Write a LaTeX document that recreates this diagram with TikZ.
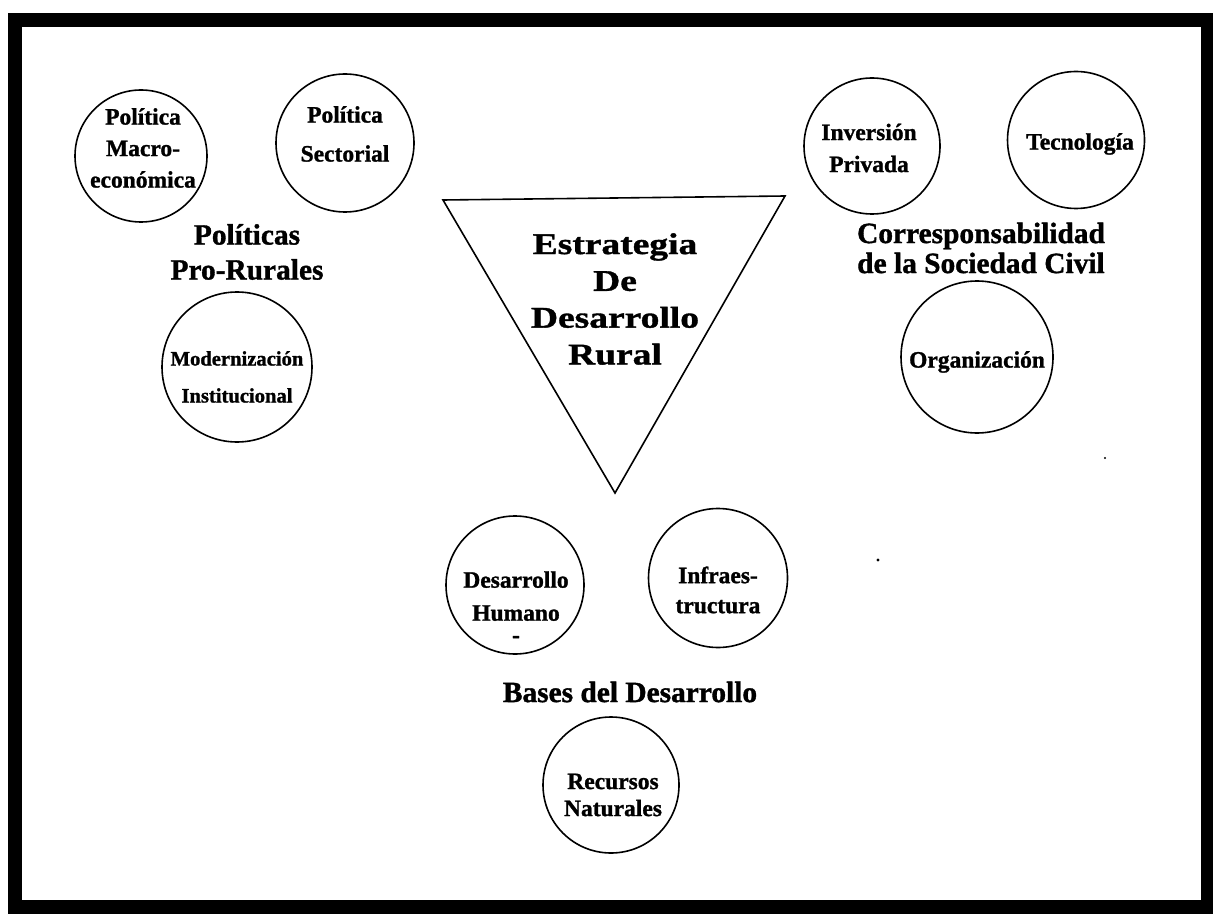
\documentclass[tikz,border=0pt]{standalone}
\usepackage{fontspec}
\setmainfont[BoldFeatures={FakeBold=1.2}]{Liberation Serif}
\newfontfamily\widefont[FakeStretch=1.25, FakeBold=1.2]{Liberation Serif Bold}

\begin{document}
\begin{tikzpicture}[
            x=0.5pt, y=-0.5pt,
            topic/.style={ draw, circle, line width=0.8pt, inner sep=0pt },
            topictext/.style={ align=center, font=\bfseries\fontsize{11.75}{16}\selectfont },
            heading/.style={ align=center, font=\bfseries\fontsize{14.7}{17.5}\selectfont },
            speck/.style={ fill=black }
        ]

        \useasboundingbox (0,0) rectangle (1213,914);
        \draw[line width=7pt] (14.5,20) rectangle (1208,907);

        \coordinate (tri-left)  at (443,200);
        \coordinate (tri-right) at (785,196);
        \coordinate (tri-tip)   at (615,493);
        \draw[line width=0.8pt] (tri-left) -- (tri-right) -- (tri-tip) -- cycle;
        \node[align=center, font=\widefont\fontsize{15}{18.4}\selectfont] (estrategia) at (615,299) {Estrategia\\De\\Desarrollo\\Rural};

        \node[topic, minimum size=66pt] (macro) at (141,156) {};
        \node[topictext, font=\bfseries\fontsize{11.75}{15.75}\selectfont] (macro-t) at (143,148) {Política\\Macro-\\económica};
        \node[topic, minimum size=69pt] (sectorial) at (345,143) {};
        \node[topictext, font=\bfseries\fontsize{11.75}{19.5}\selectfont] (sectorial-t) at (345,134) {Política\\Sectorial};
        \node[heading] (politicas) at (247,252) {Políticas\\Pro-Rurales};
        \node[topic, minimum size=75pt] (modernizacion) at (237,367) {};
        \node[topictext, font=\bfseries\fontsize{10.3}{18.5}\selectfont] (modernizacion-t) at (237,377) {Modernización\\Institucional};

        \node[topic, minimum size=68pt] (inversion) at (872,146) {};
        \node[topictext] (inversion-t) at (869,148) {Inversión\\Privada};
        \node[topic, minimum size=68.5pt] (tecnologia) at (1076,140) {};
        \node[topictext] (tecnologia-t) at (1080,144) {Tecnología};
        \node[heading, font=\bfseries\fontsize{14.7}{15}\selectfont] (sociedad) at (981,248) {Corresponsabilidad\\de la Sociedad Civil};
        \node[topic, minimum size=76pt] (organizacion) at (977,357) {};
        \node[topictext] (organizacion-t) at (977,362) {Organización};

        \node[topic, minimum size=69pt] (humano) at (515,585) {};
        \node[topictext, font=\bfseries\fontsize{11.75}{16.5}\selectfont] (humano-t) at (516,607) {Desarrollo\\Humano\\[-5.5pt]-};
        \node[topic, minimum size=69.5pt] (infra) at (718,578) {};
        \node[topictext, font=\bfseries\fontsize{11.75}{15}\selectfont] (infra-t) at (718,590) {Infraes-\\tructura};
        \node[heading] (bases) at (630,692) {Bases del Desarrollo};
        \node[topic, minimum size=68pt] (recursos) at (611,785) {};
        \node[topictext, font=\bfseries\fontsize{11.75}{13.5}\selectfont] (recursos-t) at (613,795) {Recursos\\Naturales};

        \fill[speck] (878,560) circle (0.8pt);
        \fill[speck] (1105,458) circle (0.6pt);
    \end{tikzpicture}
\end{document}
